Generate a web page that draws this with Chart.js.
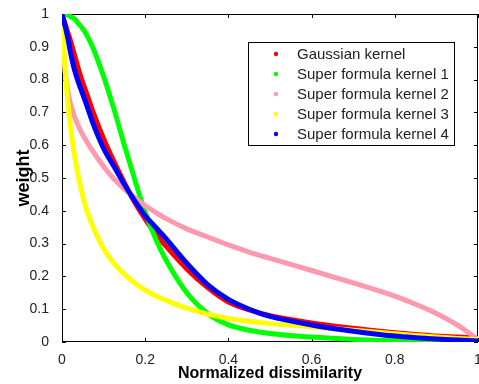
<!DOCTYPE html>
<html>
<head>
<meta charset="utf-8">
<script src="https://cdn.jsdelivr.net/npm/chart.js@4/dist/chart.umd.min.js"></script>
<style>
  html, body { margin: 0; padding: 0; background: #fff; overflow: hidden; }
  #wrap { width: 500px; height: 384px; }
</style>
</head>
<body>
<div id="wrap"><canvas id="c" width="500" height="384"></canvas></div>
<script>
// x positions (normalized dissimilarity) shared by every curve
const xs = [0, 0.005, 0.01, 0.015, 0.02, 0.03, 0.04, 0.05, 0.06, 0.075, 0.1, 0.125, 0.15, 0.175,
  0.2, 0.225, 0.25, 0.3, 0.35, 0.4, 0.45, 0.5, 0.6, 0.7, 0.8, 0.85, 0.9, 0.95, 1];

const gaussian = [1, 0.98, 0.96, 0.94, 0.92, 0.875, 0.83, 0.79, 0.755, 0.7, 0.62, 0.55, 0.485, 0.425,
  0.375, 0.33, 0.292, 0.223, 0.166, 0.122, 0.098, 0.08, 0.058, 0.042, 0.028, 0.023, 0.018, 0.015, 0.012];
const kernel1 = [1, 1, 0.998, 0.996, 0.992, 0.985, 0.97, 0.955, 0.935, 0.895, 0.81, 0.71, 0.6, 0.495,
  0.395, 0.315, 0.25, 0.15, 0.087, 0.052, 0.036, 0.026, 0.015, 0.008, 0.004, 0.003, 0.002, 0.001, 0];
const kernel2 = [1, 0.86, 0.8, 0.758, 0.728, 0.687, 0.657, 0.632, 0.61, 0.58, 0.535, 0.497, 0.466, 0.44,
  0.416, 0.395, 0.376, 0.345, 0.32, 0.296, 0.274, 0.255, 0.218, 0.18, 0.14, 0.115, 0.087, 0.052, 0.008];
const kernel3 = [1, 0.88, 0.79, 0.72, 0.66, 0.57, 0.5, 0.445, 0.4, 0.35, 0.285, 0.24, 0.207, 0.18,
  0.158, 0.141, 0.127, 0.103, 0.085, 0.072, 0.063, 0.056, 0.046, 0.036, 0.025, 0.02, 0.015, 0.011, 0.007];
const kernel4 = [1, 0.975, 0.95, 0.92, 0.885, 0.83, 0.79, 0.755, 0.72, 0.665, 0.59, 0.535, 0.48, 0.43,
  0.385, 0.35, 0.315, 0.24, 0.175, 0.13, 0.1, 0.078, 0.052, 0.033, 0.018, 0.013, 0.009, 0.006, 0.003];

const labels = ["Gaussian kernel", "Super formula kernel 1", "Super formula kernel 2",
  "Super formula kernel 3", "Super formula kernel 4"];
const colors = ["#ff0000", "#00ff00", "#ff99b0", "#ffff00", "#0000ff"];
const series = [gaussian, kernel1, kernel2, kernel3, kernel4];

const xTicks = [0, 0.2, 0.4, 0.6, 0.8, 1];
const yTicks = [0, 0.1, 0.2, 0.3, 0.4, 0.5, 0.6, 0.7, 0.8, 0.9, 1];

const FONT = "Arial, 'Liberation Sans', sans-serif";
const fmt = v => String(Math.round(v * 10) / 10);

// box round the axes with inward ticks, plus the boxed legend
const framePlugin = {
  id: "frame",
  beforeDatasetsDraw(chart) {
    const { ctx, chartArea: a, scales } = chart;
    ctx.save();
    ctx.strokeStyle = "#000";
    ctx.lineWidth = 1;
    ctx.beginPath();
    ctx.rect(a.left + 0.5, a.top + 0.5, a.right - a.left - 1, a.bottom - a.top - 1);
    xTicks.forEach(t => {
      const px = Math.round(scales.x.getPixelForValue(t)) + 0.5;
      ctx.moveTo(px, a.bottom); ctx.lineTo(px, a.bottom - 4);
      ctx.moveTo(px, a.top); ctx.lineTo(px, a.top + 4);
    });
    yTicks.forEach(t => {
      const py = Math.round(scales.y.getPixelForValue(t)) + 0.5;
      ctx.moveTo(a.left, py); ctx.lineTo(a.left + 4, py);
      ctx.moveTo(a.right, py); ctx.lineTo(a.right - 4, py);
    });
    ctx.stroke();
    ctx.restore();
  },
  afterDraw(chart) {
    const ctx = chart.ctx;
    const bx = 248, by = 42, bw = 206, bh = 103;
    ctx.save();
    ctx.fillStyle = "#fff";
    ctx.fillRect(bx, by, bw, bh);
    ctx.strokeStyle = "#000";
    ctx.lineWidth = 1;
    ctx.strokeRect(bx + 0.5, by + 0.5, bw, bh);
    ctx.font = "15px " + FONT;
    ctx.textBaseline = "middle";
    chart.data.datasets.forEach((ds, i) => {
      const y = by + 12 + i * 20;
      ctx.fillStyle = ds.borderColor;
      ctx.beginPath();
      ctx.arc(bx + 28, y, 2.2, 0, Math.PI * 2);
      ctx.fill();
      ctx.fillStyle = "#222";
      ctx.fillText(ds.label, bx + 49, y + 1);
    });
    ctx.restore();
  }
};

new Chart(document.getElementById("c"), {
  type: "line",
  data: {
    datasets: series.map((s, i) => ({
      label: labels[i],
      data: xs.map((x, j) => ({ x, y: s[j] })),
      borderColor: colors[i],
      backgroundColor: colors[i],
      borderWidth: 5,
      pointRadius: 0,
      cubicInterpolationMode: "monotone",
      order: series.length - i,
      fill: false
    }))
  },
  options: {
    responsive: false,
    animation: false,
    layout: { padding: { left: 0, right: 22, top: 14, bottom: 0 } },
    plugins: { legend: { display: false }, tooltip: { enabled: false } },
    scales: {
      x: {
        type: "linear", min: 0, max: 1,
        afterBuildTicks: s => { s.ticks = xTicks.map(v => ({ value: v })); },
        afterFit: s => { s.height = 42; },
        grid: { display: false },
        border: { display: false },
        ticks: {
          callback: fmt, padding: 2, maxRotation: 0,
          color: "#222", font: { family: FONT, size: 14 }
        },
        title: {
          display: true, text: "Normalized dissimilarity", color: "#000",
          font: { family: FONT, size: 16, weight: "bold" },
          padding: { top: 0, bottom: 1 }
        }
      },
      y: {
        min: 0, max: 1,
        afterBuildTicks: s => { s.ticks = yTicks.map(v => ({ value: v })); },
        afterFit: s => { s.width = 62; },
        grid: { display: false },
        border: { display: false },
        ticks: {
          callback: fmt, padding: 5,
          color: "#222", font: { family: FONT, size: 14 }
        },
        title: {
          display: true, text: "weight", color: "#000",
          font: { family: FONT, size: 18, weight: "bold" },
          padding: { top: 13, bottom: 0 }
        }
      }
    }
  },
  plugins: [framePlugin]
});
</script>
</body>
</html>
